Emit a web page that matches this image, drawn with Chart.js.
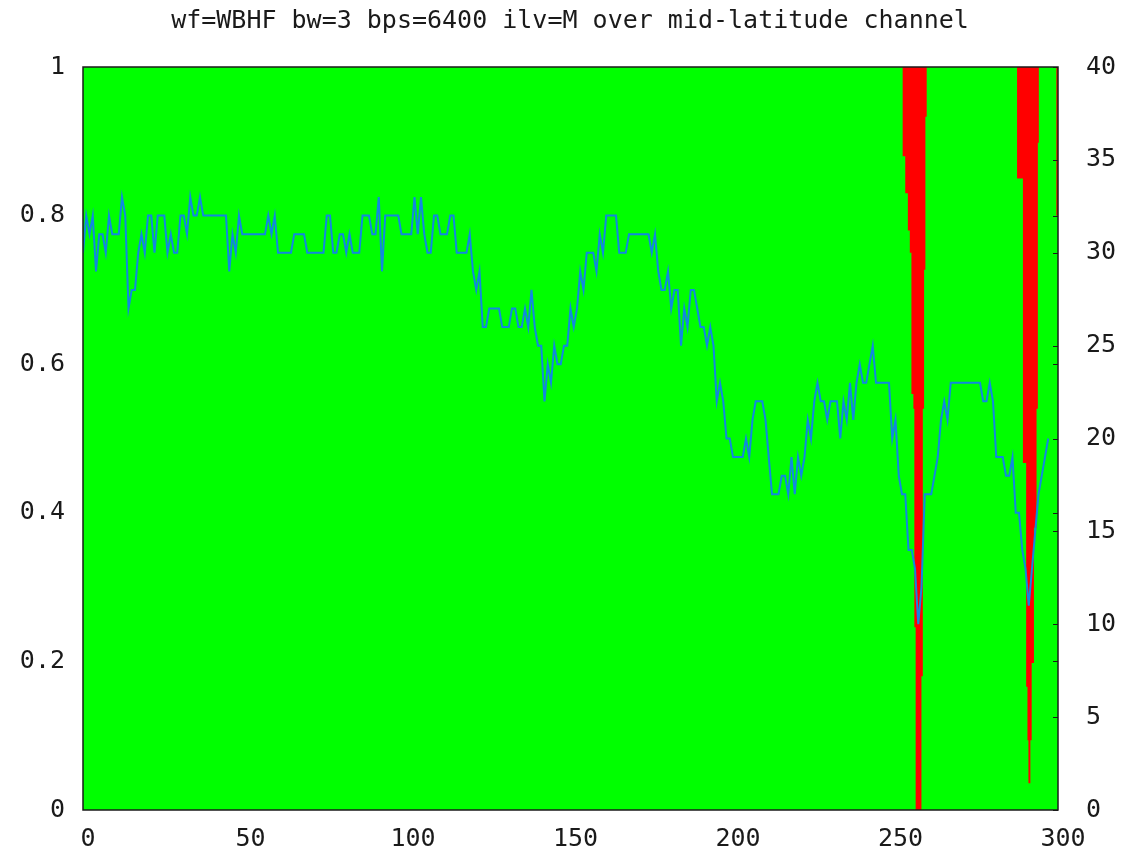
<!DOCTYPE html>
<html lang="en">
<head>
    <meta charset="UTF-8">
    <title>wf=WBHF bw=3 bps=6400 ilv=M over mid-latitude channel</title>
    <!-- Chart.js -->
    <script src="https://cdn.jsdelivr.net/npm/chart.js"></script>
    <style>
        html, body { margin: 0; padding: 0; background: #fff; }
        #wrap { width: 1140px; height: 856px; position: relative; }
    </style>
</head>
<body>
    <div id="wrap"><canvas id="berChart"></canvas></div>

    <script>
        const titleText = 'wf=WBHF bw=3 bps=6400 ilv=M over mid-latitude channel';

        // fraction of frames decoded (left axis), step points: value holds until the next time
        const fracT = [0, 252.2, 253.0, 253.8, 254.4, 254.9, 255.5, 255.8, 256.2, 257.98, 258.4, 258.8, 259.2, 259.6,
                       287.4, 289.2, 290.2, 290.6, 290.9, 291.5, 291.9, 292.6, 293.4, 293.8, 294.1, 299.5, 300];
        const fracV = [1, 0.88, 0.83, 0.78, 0.75, 0.56, 0.54, 0.246, 0, 0.18, 0.54, 0.727, 0.933, 1,
                       0.85, 0.467, 0.166, 0.094, 0.036, 0.094, 0.198, 0.38, 0.54, 0.898, 1, 0.8, 0.8];

        // channel SNR in dB (right axis), one sample per time unit from t=0
        const snrDb = [
            30,32,31,32,29,31,31,30,32,31,
            31,31,33,32,27,28,28,30,31,30,
            32,32,30,32,32,32,30,31,30,30,
            32,32,31,33,32,32,33,32,32,32,
            32,32,32,32,32,29,31,30,32,31,
            31,31,31,31,31,31,31,32,31,32,
            30,30,30,30,30,31,31,31,31,30,
            30,30,30,30,30,32,32,30,30,31,
            31,30,31,30,30,30,32,32,32,31,
            31,33,29,32,32,32,32,32,31,31,
            31,31,33,31,33,31,30,30,32,32,
            31,31,31,32,32,30,30,30,30,31,
            29,28,29,26,26,27,27,27,27,26,
            26,26,27,27,26,26,27,26,28,26,
            25,25,22,24,23,25,24,24,25,25,
            27,26,27,29,28,30,30,30,29,31,
            30,32,32,32,32,30,30,30,31,31,
            31,31,31,31,31,30,31,29,28,28,
            29,27,28,28,25,27,26,28,28,27,
            26,26,25,26,25,22,23,22,20,20,
            19,19,19,19,20,19,21,22,22,22,
            21,19,17,17,17,18,18,17,19,17,
            19,18,19,21,20,22,23,22,22,21,
            22,22,22,20,22,21,23,21,23,24,
            23,23,24,25,23,23,23,23,23,20,
            21,18,17,17,14,14,13,10,12,17,
            17,17,18,19,21,22,21,23,23,23,
            23,23,23,23,23,23,23,22,22,23,
            22,19,19,19,18,18,19,16,16,14,
            13,11,13,15,17,18,19,20
        ];

        const xTicks = [0, 50, 100, 150, 200, 250, 300];
        const leftTicks = [0, 0.2, 0.4, 0.6, 0.8, 1];
        const rightTicks = [0, 5, 10, 15, 20, 25, 30, 35, 40];

        const font = { family: 'DejaVu Sans Mono', size: 25, weight: 'normal' };
        const ink = '#1a1a1a';

        // plot frame, with short inward ticks on the right border
        const frame = {
            id: 'frame',
            afterDatasetsDraw(chart) {
                const { ctx, chartArea: a, scales } = chart;
                ctx.save();
                ctx.strokeStyle = ink;
                ctx.lineWidth = 1;
                ctx.beginPath();
                rightTicks.forEach(v => {
                    const y = Math.round(scales.yR.getPixelForValue(v)) + 0.5;
                    ctx.moveTo(a.right - 5, y); ctx.lineTo(a.right, y);
                });
                leftTicks.forEach(v => {
                    const y = Math.round(scales.yL.getPixelForValue(v)) + 0.5;
                    ctx.moveTo(a.right - 5, y); ctx.lineTo(a.right, y);
                });
                ctx.stroke();
                ctx.lineWidth = 1.5;
                ctx.strokeRect(a.left, a.top, a.right - a.left, a.bottom - a.top);
                ctx.restore();
            }
        };

        const ctx = document.getElementById('berChart').getContext('2d');
        new Chart(ctx, {
            type: 'line',
            data: {
                datasets: [
                    {
                        // SNR trace
                        data: snrDb.map((v, i) => ({ x: i, y: v })),
                        yAxisID: 'yR',
                        borderColor: '#1188e0',
                        borderWidth: 2,
                        pointRadius: 0,
                        tension: 0,
                        fill: false,
                        order: 1
                    },
                    {
                        // decoded fraction, green up to the value
                        data: fracT.map((t, i) => ({ x: t, y: fracV[i] })),
                        yAxisID: 'yL',
                        stepped: 'before',
                        borderWidth: 0,
                        pointRadius: 0,
                        backgroundColor: '#00ff00',
                        fill: 'origin',
                        order: 2
                    },
                    {
                        // full scale, red where frames were lost
                        data: [{ x: 0, y: 1 }, { x: 300, y: 1 }],
                        yAxisID: 'yL',
                        borderWidth: 0,
                        pointRadius: 0,
                        backgroundColor: '#ff0000',
                        fill: 'origin',
                        order: 3
                    }
                ]
            },
            options: {
                responsive: true,
                maintainAspectRatio: false,
                animation: false,
                layout: { padding: 0 },
                plugins: {
                    legend: { display: false },
                    tooltip: { enabled: false },
                    title: {
                        display: true,
                        text: titleText,
                        color: ink,
                        font: font,
                        padding: { top: 6, bottom: 31 }
                    }
                },
                scales: {
                    x: {
                        type: 'linear',
                        min: 0,
                        max: 300,
                        afterBuildTicks: s => { s.ticks = xTicks.map(v => ({ value: v })); },
                        afterFit: s => { s.height = 46; },
                        grid: { display: false, drawTicks: false },
                        border: { display: false },
                        ticks: { color: ink, font: font, padding: 14, labelOffset: 5, maxRotation: 0 }
                    },
                    yL: {
                        position: 'left',
                        min: 0,
                        max: 1,
                        afterBuildTicks: s => { s.ticks = leftTicks.map(v => ({ value: v })); },
                        afterFit: s => { s.width = 83; },
                        grid: { display: false, drawTicks: false },
                        border: { display: false },
                        ticks: { color: ink, font: font, padding: 18, callback: v => String(v) }
                    },
                    yR: {
                        position: 'right',
                        min: 0,
                        max: 40,
                        afterBuildTicks: s => { s.ticks = rightTicks.map(v => ({ value: v })); },
                        afterFit: s => { s.width = 82; },
                        grid: { display: false, drawTicks: false },
                        border: { display: false },
                        ticks: { color: ink, font: font, padding: 28, callback: v => String(v) }
                    }
                }
            },
            plugins: [frame]
        });
    </script>
</body>
</html>
